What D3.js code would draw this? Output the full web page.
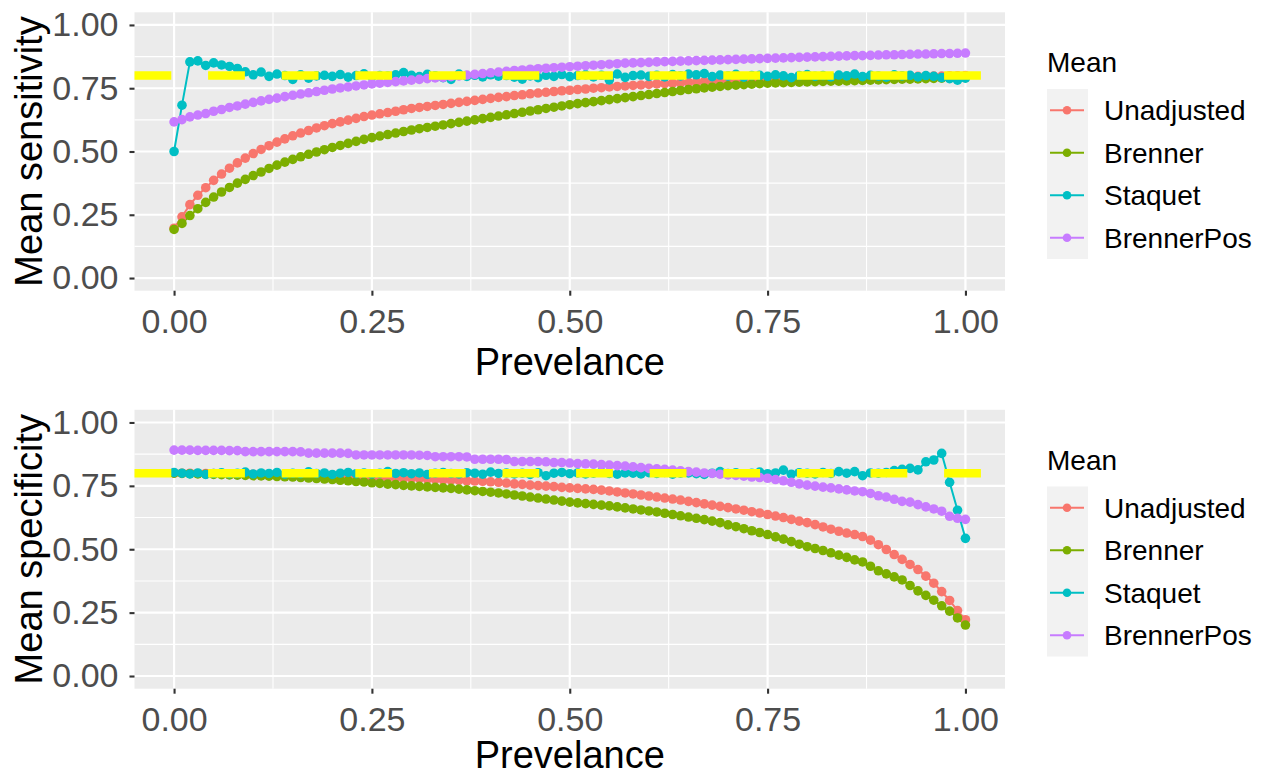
<!DOCTYPE html>
<html><head><meta charset="utf-8">
<script src="https://cdn.jsdelivr.net/npm/d3@7"></script>
<style>body{margin:0;background:#fff;} text{font-family:"Liberation Sans",Arial,sans-serif;}</style>
</head><body><svg id="chart" width="1269" height="776"></svg>
<script>
const prevalence = [0,0.01,0.02,0.03,0.04,0.05,0.06,0.07,0.08,0.09,
0.10,0.11,0.12,0.13,0.14,0.15,0.16,0.17,0.18,0.19,
0.20,0.21,0.22,0.23,0.24,0.25,0.26,0.27,0.28,0.29,
0.30,0.31,0.32,0.33,0.34,0.35,0.36,0.37,0.38,0.39,
0.40,0.41,0.42,0.43,0.44,0.45,0.46,0.47,0.48,0.49,
0.50,0.51,0.52,0.53,0.54,0.55,0.56,0.57,0.58,0.59,
0.60,0.61,0.62,0.63,0.64,0.65,0.66,0.67,0.68,0.69,
0.70,0.71,0.72,0.73,0.74,0.75,0.76,0.77,0.78,0.79,
0.80,0.81,0.82,0.83,0.84,0.85,0.86,0.87,0.88,0.89,
0.90,0.91,0.92,0.93,0.94,0.95,0.96,0.97,0.98,0.99,1.00];

const seriesNames = ["Unadjusted","Brenner","Staquet","BrennerPos"];
const seriesColors = ["#F8766D","#7CAE00","#00BFC4","#C77CFF"];

// Mean sensitivity
const sensUnadjusted = [.197,.242,.290,.327,.357,.386,.411,.434,.455,.474,
.492,.508,.523,.537,.550,.562,.573,.583,.593,.602,
.610,.617,.624,.631,.638,.644,.649,.654,.659,.665,
.670,.674,.678,.682,.686,.690,.694,.698,.702,.706,
.710,.714,.717,.721,.724,.728,.731,.734,.737,.740,
.742,.745,.747,.750,.752,.755,.757,.759,.761,.763,
.765,.767,.768,.770,.771,.773,.774,.776,.777,.778,
.780,.781,.782,.783,.784,.785,.786,.786,.787,.788,
.789,.789,.790,.791,.791,.792,.792,.793,.793,.794,
.795,.795,.796,.796,.797,.797,.798,.798,.799,.799,.800];
const sensBrenner = [.192,.216,.247,.274,.299,.320,.340,.358,.375,.390,
.405,.419,.433,.446,.458,.469,.479,.489,.498,.507,
.516,.524,.532,.540,.548,.555,.561,.567,.573,.579,
.585,.590,.595,.600,.605,.610,.615,.620,.625,.630,
.635,.640,.645,.650,.655,.660,.665,.670,.675,.680,
.685,.689,.693,.697,.701,.705,.709,.713,.717,.721,
.725,.729,.733,.737,.741,.745,.748,.751,.754,.757,
.760,.762,.764,.766,.768,.770,.771,.772,.773,.774,
.775,.776,.777,.778,.778,.779,.780,.781,.782,.783,
.784,.785,.786,.786,.787,.788,.789,.790,.791,.791,.792];
const sensStaquet = [.500,.683,.854,.858,.840,.850,.842,.836,.828,.815,
.803,.814,.797,.806,.800,.785,.803,.790,.799,.801,
.797,.804,.794,.800,.807,.795,.800,.798,.803,.812,
.801,.796,.805,.799,.792,.785,.806,.797,.801,.795,
.803,.798,.800,.794,.786,.799,.792,.801,.797,.804,
.796,.800,.803,.795,.801,.783,.806,.793,.800,.802,
.797,.801,.795,.804,.799,.806,.803,.808,.796,.802,
.798,.805,.794,.800,.801,.797,.803,.799,.792,.800,
.804,.797,.800,.795,.802,.799,.806,.796,.801,.798,
.794,.803,.799,.801,.795,.800,.797,.792,.788,.782,.790];
const sensBrennerPos = [.617,.626,.637,.644,.650,.659,.666,.674,.680,.687,
.694,.700,.706,.711,.717,.722,.727,.732,.737,.742,
.747,.751,.755,.759,.763,.767,.770,.773,.776,.779,
.782,.785,.788,.791,.793,.796,.799,.802,.805,.808,
.811,.814,.817,.820,.822,.825,.827,.829,.831,.833,
.835,.837,.839,.841,.843,.845,.847,.849,.850,.851,
.852,.854,.855,.856,.857,.858,.859,.860,.861,.862,
.863,.864,.865,.866,.867,.868,.869,.870,.871,.872,
.873,.874,.875,.876,.877,.878,.879,.879,.880,.881,
.882,.882,.883,.884,.885,.885,.886,.887,.887,.888,.889];

// Mean specificity
const specUnadjusted = [.800,.800,.800,.799,.799,.799,.798,.798,.797,.797,
.796,.796,.795,.795,.794,.793,.793,.792,.791,.790,
.789,.788,.787,.786,.785,.784,.783,.782,.781,.780,
.780,.779,.777,.776,.774,.773,.772,.770,.769,.768,
.766,.764,.761,.758,.756,.753,.751,.749,.747,.744,
.742,.740,.738,.736,.733,.730,.726,.722,.718,.714,
.710,.706,.702,.698,.694,.689,.684,.679,.674,.669,
.664,.659,.654,.648,.643,.637,.631,.625,.618,.611,
.605,.597,.588,.579,.571,.564,.558,.550,.536,.518,
.499,.479,.460,.440,.420,.394,.366,.333,.298,.258,.222];
const specBrenner = [.800,.799,.798,.797,.796,.795,.794,.793,.792,.791,
.790,.789,.788,.787,.786,.785,.783,.781,.779,.777,
.775,.772,.770,.767,.765,.762,.760,.757,.755,.752,
.750,.748,.746,.744,.742,.740,.737,.734,.731,.728,
.725,.722,.718,.714,.710,.706,.702,.698,.694,.690,
.686,.683,.680,.677,.674,.671,.667,.663,.659,.655,
.651,.647,.642,.637,.632,.627,.622,.617,.611,.605,
.596,.589,.581,.573,.566,.558,.549,.540,.530,.520,
.510,.503,.495,.486,.477,.468,.458,.450,.433,.415,
.403,.391,.379,.357,.336,.318,.299,.277,.256,.229,.201];
const specStaquet = [.803,.800,.797,.801,.795,.799,.802,.798,.800,.804,
.797,.801,.799,.803,.796,.800,.798,.805,.799,.801,
.795,.800,.803,.798,.801,.797,.800,.806,.799,.802,
.798,.801,.795,.800,.803,.799,.797,.802,.800,.796,
.804,.799,.801,.797,.800,.795,.802,.790,.800,.803,
.798,.801,.797,.800,.804,.799,.796,.801,.800,.797,
.802,.799,.803,.796,.800,.801,.798,.795,.800,.806,
.799,.802,.797,.800,.804,.798,.801,.812,.796,.802,
.800,.797,.803,.799,.806,.800,.806,.790,.801,.800,
.803,.810,.815,.819,.813,.845,.852,.878,.764,.654,.543];
const specBrennerPos = [.891,.891,.891,.890,.890,.890,.890,.889,.889,.885,
.885,.885,.885,.885,.885,.885,.884,.879,.879,.879,
.879,.879,.878,.872,.872,.872,.872,.872,.872,.872,
.872,.871,.870,.865,.865,.865,.865,.864,.855,.855,
.855,.855,.854,.846,.846,.846,.846,.845,.842,.842,
.840,.838,.837,.836,.834,.832,.830,.828,.825,.822,
.819,.817,.815,.812,.809,.806,.804,.801,.799,.796,
.793,.791,.788,.785,.783,.780,.775,.770,.764,.758,
.753,.749,.745,.742,.738,.734,.730,.727,.720,.711,
.706,.697,.689,.686,.676,.667,.659,.650,.630,.622,.618];

const xTicks = [0, 0.25, 0.5, 0.75, 1];
const yTicks = [0, 0.25, 0.5, 0.75, 1];
const xMinor = [0.125, 0.375, 0.625, 0.875];
const yMinor = [0.125, 0.375, 0.625, 0.875];
const referenceValue = 0.8;
const xTitle = "Prevelance";
const legendTitle = "Mean";

const svg = d3.select("#chart");
const fmt = d3.format(".2f");

function drawPanel(cfg) {
  const x = d3.scaleLinear().domain([-0.05, 1.05]).range([134.5, 1005]);
  const y = d3.scaleLinear().domain([-0.05, 1.05]).range([cfg.bottom, cfg.top]);
  const g = svg.append("g");
  g.append("rect").attr("x", x.range()[0]).attr("y", cfg.top)
    .attr("width", x.range()[1] - x.range()[0]).attr("height", cfg.bottom - cfg.top)
    .attr("fill", "#EBEBEB");
  // minor grid
  g.selectAll(".ymin").data(yMinor).join("line")
    .attr("x1", x.range()[0]).attr("x2", x.range()[1])
    .attr("y1", d => y(d)).attr("y2", d => y(d))
    .attr("stroke", "#fff").attr("stroke-width", 1.1);
  g.selectAll(".xmin").data(xMinor).join("line")
    .attr("y1", cfg.top).attr("y2", cfg.bottom)
    .attr("x1", d => x(d)).attr("x2", d => x(d))
    .attr("stroke", "#fff").attr("stroke-width", 1.1);
  // major grid
  g.selectAll(".ymaj").data(yTicks).join("line")
    .attr("x1", x.range()[0]).attr("x2", x.range()[1])
    .attr("y1", d => y(d)).attr("y2", d => y(d))
    .attr("stroke", "#fff").attr("stroke-width", 2.2);
  g.selectAll(".xmaj").data(xTicks).join("line")
    .attr("y1", cfg.top).attr("y2", cfg.bottom)
    .attr("x1", d => x(d)).attr("x2", d => x(d))
    .attr("stroke", "#fff").attr("stroke-width", 2.2);

  // axes
  const yAxis = g.append("g").attr("transform", `translate(${x.range()[0]},0)`)
    .call(d3.axisLeft(y).tickValues(yTicks).tickFormat(fmt).tickSize(5).tickPadding(11));
  const xAxis = g.append("g").attr("transform", `translate(0,${cfg.bottom})`)
    .call(d3.axisBottom(x).tickValues(xTicks).tickFormat(fmt).tickSize(5).tickPadding(13));
  [yAxis, xAxis].forEach(a => {
    a.select(".domain").remove();
    a.selectAll(".tick line").attr("stroke", "#333333").attr("stroke-width", 2.1);
    a.selectAll(".tick text").attr("fill", "#4D4D4D").style("font-size", "34px")
      .style("font-family", '"Liberation Sans", Arial, sans-serif');
  });

  // series
  const line = d3.line().x((d, i) => x(prevalence[i])).y(d => y(d));
  cfg.series.forEach((vals, k) => {
    g.append("path").attr("d", line(vals)).attr("fill", "none")
      .attr("stroke", seriesColors[k]).attr("stroke-width", 2);
  });
  cfg.series.forEach((vals, k) => {
    g.append("g").selectAll("circle").data(vals).join("circle")
      .attr("cx", (d, i) => x(prevalence[i])).attr("cy", d => y(d))
      .attr("r", 4.8).attr("fill", seriesColors[k]);
  });

  // reference line
  g.append("line").attr("x1", x.range()[0]).attr("x2", x.range()[1])
    .attr("y1", y(referenceValue)).attr("y2", y(referenceValue))
    .attr("stroke", "#FFFF00").attr("stroke-width", 8.5)
    .attr("stroke-dasharray", "36.8,36.8");

  // titles
  g.append("text").attr("x", (x(0) + x(1)) / 2).attr("y", cfg.bottom + cfg.xTitleOffset)
    .attr("text-anchor", "middle").style("font-size", "38px").attr("fill", "#000")
    .text(xTitle);
  g.append("text").attr("transform", `translate(42,${(cfg.top + cfg.bottom) / 2}) rotate(-90)`)
    .attr("text-anchor", "middle").style("font-size", "38px").attr("fill", "#000")
    .text(cfg.yTitle);

  // legend
  const lg = g.append("g");
  lg.append("text").attr("x", 1047).attr("y", cfg.legendTop - 17).style("font-size", "28px")
    .attr("fill", "#000").text(legendTitle);
  lg.append("rect").attr("x", 1047).attr("y", cfg.legendTop).attr("width", 41).attr("height", 170)
    .attr("fill", "#F2F2F2");
  seriesNames.forEach((name, k) => {
    const cy = cfg.legendTop + 21.25 + k * 42.5;
    lg.append("line").attr("x1", 1050).attr("x2", 1084).attr("y1", cy).attr("y2", cy)
      .attr("stroke", seriesColors[k]).attr("stroke-width", 2);
    lg.append("circle").attr("cx", 1067).attr("cy", cy).attr("r", 4.3).attr("fill", seriesColors[k]);
    lg.append("text").attr("x", 1104).attr("y", cy + 10).style("font-size", "28px")
      .attr("fill", "#000").text(name);
  });
}

drawPanel({top: 12.3, bottom: 290.7, yTitle: "Mean sensitivity", legendTop: 89, xTitleOffset: 84,
  series: [sensUnadjusted, sensBrenner, sensStaquet, sensBrennerPos]});
drawPanel({top: 409.8, bottom: 688.7, yTitle: "Mean specificity", legendTop: 486.5, xTitleOffset: 79.5,
  series: [specUnadjusted, specBrenner, specStaquet, specBrennerPos]});
</script></body></html>
